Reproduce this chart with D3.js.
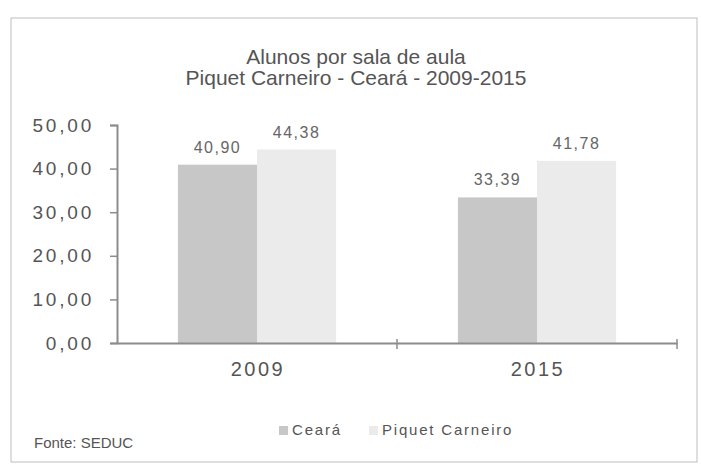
<!DOCTYPE html>
<html>
<head>
<meta charset="utf-8">
<script src="https://cdn.jsdelivr.net/npm/d3@7"></script>
<style>
  body { margin: 0; background: #fff; }
  text { font-family: "Liberation Sans", Arial, sans-serif; }
</style>
</head>
<body>
<svg width="701" height="467"></svg>
<script>
// Alunos por sala de aula - Piquet Carneiro / Ceará
const years = ["2009", "2015"];
const seriesNames = ["Ceará", "Piquet Carneiro"];
const cearaValues = [40.90, 33.39];
const piquetValues = [44.38, 41.78];
const yTicks = [0, 10, 20, 30, 40, 50];

const colors = ["#c7c7c7", "#ebebeb"];

var svg = d3.select("svg"),
    width = +svg.attr("width"),
    height = +svg.attr("height");

var fmt = function(v) { return d3.format(".2f")(v).replace(".", ","); };

// frame
svg.append("rect")
    .attr("x", 11).attr("y", 18)
    .attr("width", 686).attr("height", 444)
    .attr("fill", "#fff")
    .attr("stroke", "#bdbdbd")
    .attr("stroke-width", 1);

// title
svg.append("text")
    .attr("x", 356).attr("y", 64)
    .attr("text-anchor", "middle")
    .attr("font-size", 21)
    .attr("fill", "#555")
    .text("Alunos por sala de aula");
svg.append("text")
    .attr("x", 356).attr("y", 85)
    .attr("text-anchor", "middle")
    .attr("font-size", 21)
    .attr("fill", "#555")
    .text("Piquet Carneiro - Ceará - 2009-2015");

var plotLeft = 117, plotRight = 677, plotTop = 125, plotBottom = 343;

var y = d3.scaleLinear().domain([0, 50]).range([plotBottom, plotTop]);
var x0 = d3.scaleBand().domain(years).range([plotLeft, plotRight]).padding(0);
var x1 = d3.scaleBand().domain(seriesNames)
    .range([0, x0.bandwidth() * 0.565]).padding(0);
var groupOffset = (x0.bandwidth() - x1.range()[1]) / 2;

var rows = years.map(function(yr, i) {
    return { year: yr, values: [cearaValues[i], piquetValues[i]] };
});

// bars
var groups = svg.selectAll("g.year")
    .data(rows)
    .enter().append("g")
    .attr("class", "year")
    .attr("transform", function(d) { return "translate(" + (x0(d.year) + groupOffset) + ",0)"; });

groups.selectAll("rect")
    .data(function(d) { return d.values.map(function(v, j) { return { name: seriesNames[j], value: v, idx: j }; }); })
    .enter().append("rect")
    .attr("x", function(d) { return x1(d.name); })
    .attr("y", function(d) { return y(d.value); })
    .attr("width", x1.bandwidth())
    .attr("height", function(d) { return plotBottom - y(d.value); })
    .attr("fill", function(d) { return colors[d.idx]; });

groups.selectAll("text.val")
    .data(function(d) { return d.values.map(function(v, j) { return { name: seriesNames[j], value: v }; }); })
    .enter().append("text")
    .attr("class", "val")
    .attr("x", function(d) { return x1(d.name) + x1.bandwidth() / 2; })
    .attr("y", function(d) { return y(d.value) - 12; })
    .attr("text-anchor", "middle")
    .attr("font-size", 16)
    .attr("fill", "#666")
    .style("letter-spacing", "1.5px")
    .text(function(d) { return fmt(d.value); });

// y axis
var yAxis = d3.axisLeft(y)
    .tickValues(yTicks)
    .tickSize(7)
    .tickPadding(16)
    .tickFormat(fmt);

var gy = svg.append("g")
    .attr("transform", "translate(" + plotLeft + ",0)")
    .call(yAxis);
gy.select(".domain").attr("stroke", "#8c8c8c").attr("stroke-width", 2);
gy.selectAll(".tick line").attr("stroke", "#8c8c8c").attr("stroke-width", 1.5);
gy.selectAll(".tick text")
    .attr("font-size", 19)
    .attr("fill", "#555")
    .style("letter-spacing", "2.8px")
    .style("font-family", "'Liberation Sans', Arial, sans-serif");

// x axis
var xAxis = d3.axisBottom(x0).tickSize(0).tickPadding(19);
var gx = svg.append("g")
    .attr("transform", "translate(0," + plotBottom + ")")
    .call(xAxis);
gx.select(".domain").attr("stroke", "#8c8c8c").attr("stroke-width", 2);
gx.selectAll(".tick text")
    .attr("font-size", 20)
    .attr("fill", "#555")
    .attr("dx", "1px")
    .style("letter-spacing", "2.5px")
    .style("font-family", "'Liberation Sans', Arial, sans-serif");
// category boundary ticks
gx.selectAll("line.sep")
    .data(years.slice(1).map(function(yr) { return x0(yr); }).concat([plotRight]))
    .enter().append("line")
    .attr("class", "sep")
    .attr("x1", function(d) { return d; }).attr("x2", function(d) { return d; })
    .attr("y1", -4).attr("y2", 6)
    .attr("stroke", "#8c8c8c").attr("stroke-width", 1.5);

// legend
var legend = svg.append("g").attr("transform", "translate(279,435)");
var legendX = [0, 90];
seriesNames.forEach(function(name, i) {
    legend.append("rect")
        .attr("x", legendX[i]).attr("y", -9)
        .attr("width", 9).attr("height", 9)
        .attr("fill", colors[i]);
    legend.append("text")
        .attr("x", legendX[i] + 13).attr("y", 0)
        .attr("font-size", 15)
        .attr("fill", "#555")
        .style("letter-spacing", "1.8px")
        .text(name);
});

// source
svg.append("text")
    .attr("x", 34).attr("y", 448)
    .attr("font-size", 15)
    .attr("fill", "#555")
    .text("Fonte: SEDUC");
</script>
</body>
</html>
